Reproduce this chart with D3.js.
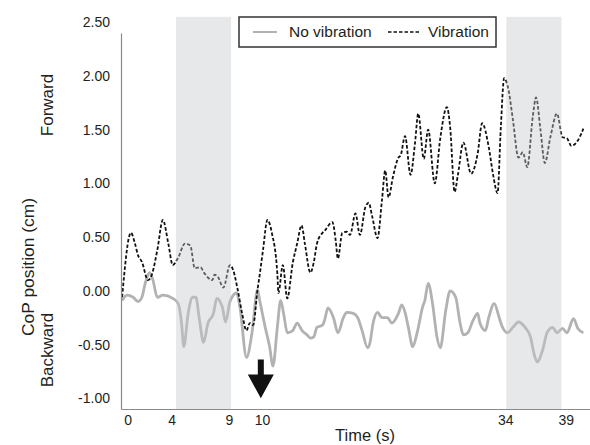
<!DOCTYPE html>
<html>
<head>
<meta charset="utf-8">
<script src="https://cdn.jsdelivr.net/npm/d3@7"></script>
<style>
  body { margin: 0; background: #fff; }
  svg { display: block; font-family: "Liberation Sans", Arial, Helvetica, sans-serif; }
</style>
</head>
<body>
<svg id="chart"></svg>
<script>
// CoP trace (time in s, position in cm)
var vibTime = [-0.9, -0.1, 0.27, 0.55, 0.9, 1.45, 1.8, 2.3, 2.8, 3.3, 3.7, 4.2, 4.8, 5.3, 5.7, 6.2, 6.6, 7.3, 7.5, 7.8,
  8.3, 8.9, 9.2, 9.6, 10.0, 10.4, 10.7, 11.0, 11.4, 11.6, 11.9, 12.3, 12.7, 13.2, 13.3, 13.7, 14.1, 14.6, 15.0, 15.4,
  15.7, 16.2, 16.5, 16.8, 17.3, 17.5, 18.2, 18.5, 18.7, 19.1, 19.5, 19.8, 20.3, 20.7, 21.2, 21.5, 21.8, 22.3, 22.7, 23.0,
  23.3, 23.7, 24.2, 24.4, 24.8, 25.3, 25.7, 26.0, 26.5, 26.9, 27.5, 28.0, 28.6, 28.9, 29.3, 29.6, 30.1, 30.8, 31.4, 31.8,
  32.4, 32.8, 33.2, 33.5, 33.8, 34.2, 34.6, 35.1, 35.5, 35.9, 36.4, 36.7, 37.1, 37.5, 38.0, 38.6, 39.1, 39.5, 39.9, 40.5, 41.0];
var vibValue = [-0.06, 0.54, 0.44, 0.33, 0.27, 0.10, 0.15, 0.38, 0.66, 0.44, 0.24, 0.31, 0.44, 0.42, 0.21, 0.22, 0.16, 0.10, 0.15, 0.13,
  0.03, 0.24, 0.19, 0.01, -0.21, -0.37, -0.30, -0.32, 0.01, 0.15, 0.38, 0.66, 0.54, 0.16, -0.02, 0.24, -0.07, 0.26, 0.44, 0.61,
  0.44, 0.17, 0.26, 0.44, 0.54, 0.56, 0.64, 0.47, 0.30, 0.54, 0.55, 0.52, 0.72, 0.52, 0.78, 0.82, 0.70, 0.49, 0.84, 1.12,
  0.87, 1.06, 1.24, 1.26, 1.44, 1.08, 1.37, 1.65, 1.23, 1.50, 1.00, 1.42, 1.71, 1.52, 0.92, 1.08, 1.38, 1.09, 1.28, 1.56,
  1.34, 1.08, 0.91, 1.52, 1.98, 1.87, 1.59, 1.24, 1.29, 1.15, 1.62, 1.80, 1.50, 1.19, 1.43, 1.65, 1.43, 1.42, 1.35, 1.40, 1.51];

var noVibTime = [-0.9, -0.45, 0.1, 0.55, 0.9, 1.2, 1.6, 1.9, 2.3, 2.8, 3.7, 4.2, 4.5, 4.7, 5.1, 5.5, 5.8, 6.1, 6.5, 6.9,
  7.4, 7.7, 8.2, 8.5, 8.9, 9.5, 9.8, 10.4, 10.9, 11.4, 11.6, 12.1, 12.5, 12.8, 13.2, 13.5, 13.8, 14.1, 14.6, 15.0,
  15.45, 15.9, 16.2, 16.5, 16.8, 17.3, 17.5, 17.8, 18.3, 18.7, 19.2, 19.5, 20.1, 20.5, 20.9, 21.4, 21.6, 21.9, 22.3, 22.7,
  23.2, 23.6, 24.2, 24.5, 24.8, 25.1, 25.5, 25.9, 26.4, 26.6, 26.9, 27.3, 27.7, 28.0, 28.5, 28.9, 29.4, 29.8, 30.1, 30.5,
  31.0, 31.4, 31.6, 32.1, 32.4, 32.9, 33.3, 33.5, 34.1, 34.6, 35.1, 35.7, 36.2, 36.5, 36.8, 37.3, 37.7, 38.2, 38.6, 39.1,
  39.5, 40.1, 40.5, 41.0];
var noVibValue = [-0.09, -0.04, -0.06, -0.10, -0.06, 0.07, 0.17, 0.10, -0.06, -0.04, -0.07, -0.12, -0.30, -0.52, -0.21, -0.06, -0.06, -0.25, -0.48, -0.30,
  -0.21, -0.07, -0.15, -0.29, -0.10, -0.02, -0.15, -0.62, -0.39, 0.01, -0.09, -0.34, -0.52, -0.70, -0.34, -0.09, -0.23, -0.39, -0.37, -0.30,
  -0.37, -0.41, -0.44, -0.43, -0.34, -0.32, -0.27, -0.16, -0.25, -0.39, -0.25, -0.20, -0.21, -0.25, -0.37, -0.53, -0.49, -0.30, -0.20, -0.25,
  -0.25, -0.30, -0.21, -0.13, -0.20, -0.34, -0.52, -0.39, -0.15, -0.09, 0.07, -0.12, -0.43, -0.53, -0.18, 0.00, -0.06, -0.30, -0.41, -0.39,
  -0.27, -0.21, -0.30, -0.37, -0.25, -0.12, -0.23, -0.30, -0.39, -0.34, -0.29, -0.34, -0.43, -0.58, -0.66, -0.55, -0.39, -0.34, -0.39, -0.35,
  -0.39, -0.26, -0.35, -0.39];

// shaded windows (s)
var bandStart = [4, 34];
var bandEnd = [9, 39];

// tick labels and where they sit on the time axis
var xTickLabels = ["0", "4", "9", "10", "34", "39"];
var xTickAt = [-0.4, 3.6, 8.8, 11.8, 33.9, 39.4];
var yTicks = [-1.0, -0.5, 0.0, 0.5, 1.0, 1.5, 2.0, 2.5];

// perturbation marker
var arrowTime = 11.7;
var arrowTop = -0.64, arrowNeck = -0.78, arrowTip = -1.0;

var svgWidth = 590, svgHeight = 445;
var textColor = "#231f20";

var svg = d3.select("#chart")
    .attr("width", svgWidth)
    .attr("height", svgHeight);

var x = d3.scaleLinear().domain([-1, 41.6]).range([121, 590]);
var y = d3.scaleLinear().domain([-1.1, 2.4]).range([409, 33]);

var vib = vibTime.map(function(t, i) { return {t: t, v: vibValue[i]}; });
var noVib = noVibTime.map(function(t, i) { return {t: t, v: noVibValue[i]}; });

// monotone keeps the peaks/troughs rounded without overshoot
var line = d3.line()
    .x(function(d) { return x(d.t); })
    .y(function(d) { return y(d.v); })
    .curve(d3.curveMonotoneX);

// traces
svg.append("path")
    .datum(noVib)
    .attr("fill", "none")
    .attr("stroke", "#b2b2b2")
    .attr("stroke-width", 2.8)
    .attr("stroke-linejoin", "round")
    .attr("d", line);

svg.append("path")
    .datum(vib)
    .attr("fill", "none")
    .attr("stroke", "#111")
    .attr("stroke-width", 1.8)
    .attr("stroke-dasharray", "3.5,2")
    .attr("d", line);

// shaded windows go over the lines (semi transparent, like the original)
svg.selectAll("rect.band")
    .data(bandStart)
    .enter().append("rect")
    .attr("class", "band")
    .attr("x", function(d) { return x(d); })
    .attr("width", function(d, i) { return x(bandEnd[i]) - x(d); })
    .attr("y", y(2.55))
    .attr("height", y(-1.1) - y(2.55))
    .attr("fill", "#c6c8cc")
    .attr("fill-opacity", 0.42);

// y axis
var yAxis = svg.append("g")
    .attr("transform", "translate(" + x(-1) + ",0)")
    .call(d3.axisLeft(y)
      .tickValues(yTicks)
      .tickSize(0)
      .tickPadding(11)
      .tickFormat(function(d) { return d.toFixed(2); }));
yAxis.select(".domain").attr("stroke", "#8a8a8a").attr("stroke-width", 1.2);
yAxis.selectAll("text").attr("font-size", 14).attr("fill", textColor)
    .attr("font-family", "Liberation Sans, Arial, sans-serif");

// x axis
var xAxis = svg.append("g")
    .attr("transform", "translate(0," + y(-1.1) + ")")
    .call(d3.axisBottom(x)
      .tickValues(xTickAt)
      .tickSize(0)
      .tickPadding(6)
      .tickFormat(function(d, i) { return xTickLabels[i]; }));
xAxis.select(".domain").attr("stroke", "#8a8a8a").attr("stroke-width", 1.2);
xAxis.selectAll("text").attr("font-size", 14).attr("fill", textColor)
    .attr("font-family", "Liberation Sans, Arial, sans-serif");

// arrow at the perturbation
var ax = x(arrowTime);
svg.append("path")
    .attr("d", "M" + (ax - 3) + "," + y(arrowTop) +
      "L" + (ax + 3) + "," + y(arrowTop) +
      "L" + (ax + 3) + "," + y(arrowNeck) +
      "L" + (ax + 13) + "," + y(arrowNeck) +
      "L" + ax + "," + y(arrowTip) +
      "L" + (ax - 13) + "," + y(arrowNeck) +
      "L" + (ax - 3) + "," + y(arrowNeck) + "Z")
    .attr("fill", "#111");

// axis titles
svg.append("text")
    .attr("transform", "translate(28,267) rotate(-90)")
    .attr("text-anchor", "middle")
    .attr("dy", "0.35em")
    .attr("font-size", 17.4)
    .attr("fill", textColor)
    .text("CoP position (cm)");

svg.append("text")
    .attr("transform", "translate(47,105) rotate(-90)")
    .attr("text-anchor", "middle")
    .attr("dy", "0.35em")
    .attr("font-size", 17)
    .attr("fill", textColor)
    .text("Forward");

svg.append("text")
    .attr("transform", "translate(47,350) rotate(-90)")
    .attr("text-anchor", "middle")
    .attr("dy", "0.35em")
    .attr("font-size", 17)
    .attr("fill", textColor)
    .text("Backward");

svg.append("text")
    .attr("x", 365)
    .attr("y", 441)
    .attr("text-anchor", "middle")
    .attr("font-size", 16.5)
    .attr("fill", textColor)
    .text("Time (s)");

// legend
var legend = svg.append("g").attr("transform", "translate(239,17)");
legend.append("rect")
    .attr("width", 257)
    .attr("height", 30)
    .attr("fill", "#fff")
    .attr("stroke", "#333")
    .attr("stroke-width", 1.5);
legend.append("line")
    .attr("x1", 14).attr("x2", 38).attr("y1", 15).attr("y2", 15)
    .attr("stroke", "#b2b2b2").attr("stroke-width", 2);
legend.append("text")
    .attr("x", 50).attr("y", 15).attr("dy", "0.35em")
    .attr("font-size", 15.5).attr("fill", textColor)
    .text("No vibration");
legend.append("line")
    .attr("x1", 149).attr("x2", 180).attr("y1", 15).attr("y2", 15)
    .attr("stroke", "#111").attr("stroke-width", 1.4)
    .attr("stroke-dasharray", "3.5,2");
legend.append("text")
    .attr("x", 189).attr("y", 15).attr("dy", "0.35em")
    .attr("font-size", 15.5).attr("fill", textColor)
    .text("Vibration");
</script>
</body>
</html>
